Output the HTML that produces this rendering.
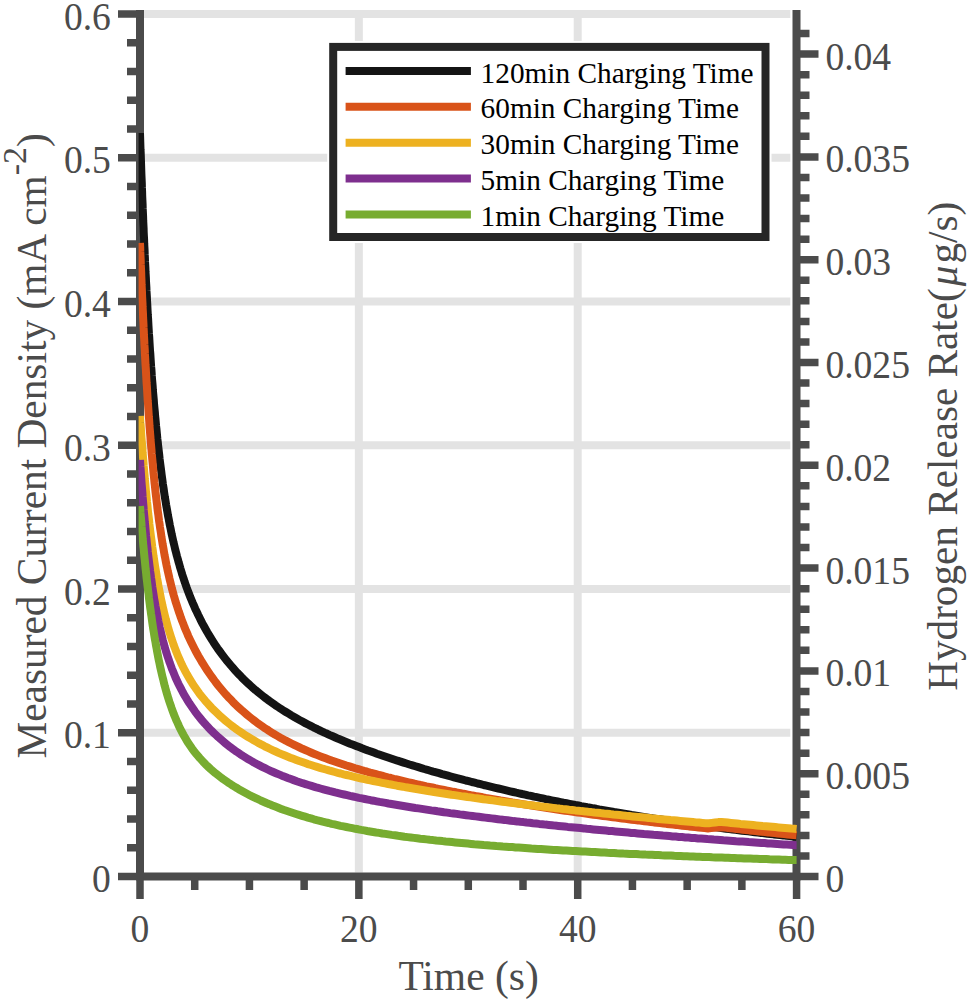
<!DOCTYPE html>
<html><head><meta charset="utf-8"><style>
html,body{margin:0;padding:0;background:#fff;width:967px;height:1002px;overflow:hidden}
svg{display:block}
text{font-family:"Liberation Serif",serif}
</style></head><body>
<svg width="967" height="1002" viewBox="0 0 967 1002">
<rect width="967" height="1002" fill="#fff"/>
<line x1="144" y1="14.00" x2="790.3" y2="14.00" stroke="#e3e3e3" stroke-width="8"/>
<line x1="144" y1="157.75" x2="790.3" y2="157.75" stroke="#e3e3e3" stroke-width="8"/>
<line x1="144" y1="301.50" x2="790.3" y2="301.50" stroke="#e3e3e3" stroke-width="8"/>
<line x1="144" y1="445.25" x2="790.3" y2="445.25" stroke="#e3e3e3" stroke-width="8"/>
<line x1="144" y1="589.00" x2="790.3" y2="589.00" stroke="#e3e3e3" stroke-width="8"/>
<line x1="144" y1="732.75" x2="790.3" y2="732.75" stroke="#e3e3e3" stroke-width="8"/>
<line x1="358.86" y1="10" x2="358.86" y2="872.5" stroke="#e3e3e3" stroke-width="8"/>
<line x1="577.72" y1="10" x2="577.72" y2="872.5" stroke="#e3e3e3" stroke-width="8"/>
<path d="M140 10V880.5M796.5 10V880.5M136 876.5H800.5" stroke="#4b4b4b" stroke-width="8" fill="none"/>
<path d="M118 14.00H139M127 42.75H139M127 71.50H139M127 100.25H139M127 129.00H139M118 157.75H139M127 186.50H139M127 215.25H139M127 244.00H139M127 272.75H139M118 301.50H139M127 330.25H139M127 359.00H139M127 387.75H139M127 416.50H139M118 445.25H139M127 474.00H139M127 502.75H139M127 531.50H139M127 560.25H139M118 589.00H139M127 617.75H139M127 646.50H139M127 675.25H139M127 704.00H139M118 732.75H139M127 761.50H139M127 790.25H139M127 819.00H139M127 847.75H139M118 876.50H139M797 876.50H818.5M797 855.94H809.5M797 835.38H809.5M797 814.82H809.5M797 794.26H809.5M797 773.70H818.5M797 753.14H809.5M797 732.58H809.5M797 712.02H809.5M797 691.46H809.5M797 670.90H818.5M797 650.34H809.5M797 629.78H809.5M797 609.22H809.5M797 588.66H809.5M797 568.10H818.5M797 547.54H809.5M797 526.98H809.5M797 506.42H809.5M797 485.86H809.5M797 465.30H818.5M797 444.74H809.5M797 424.18H809.5M797 403.62H809.5M797 383.06H809.5M797 362.50H818.5M797 341.94H809.5M797 321.38H809.5M797 300.82H809.5M797 280.26H809.5M797 259.70H818.5M797 239.14H809.5M797 218.58H809.5M797 198.02H809.5M797 177.46H809.5M797 156.90H818.5M797 136.34H809.5M797 115.78H809.5M797 95.22H809.5M797 74.66H809.5M797 54.10H818.5M797 33.54H809.5M140.00 877V899M194.72 877V890M249.43 877V890M304.14 877V890M358.86 877V899M413.57 877V890M468.29 877V890M523.00 877V890M577.72 877V899M632.43 877V890M687.15 877V890M741.87 877V890M796.58 877V899" stroke="#4b4b4b" stroke-width="7.5" fill="none"/>
<defs><clipPath id="pc"><rect x="138.6" y="0" width="658.6" height="880"/></clipPath></defs><g clip-path="url(#pc)">
<path d="M140.0 133.0 L140.1 136.3 L140.2 139.6 L140.3 142.9 L140.4 146.1 L140.5 149.3 L140.7 152.5 L140.8 155.7 L140.9 158.8 L141.0 161.9 L141.1 165.0 L141.2 168.0 L141.3 171.1 L141.4 174.1 L141.6 178.6 L141.8 183.0 L141.9 187.4 L142.1 191.7 L142.2 195.9 L142.4 200.1 L142.6 204.3 L142.7 208.4 L142.9 212.5 L143.1 216.5 L143.2 220.5 L143.4 224.4 L143.6 228.3 L143.7 232.1 L143.9 235.9 L144.1 239.6 L144.2 243.3 L144.4 247.0 L144.6 250.6 L144.7 254.2 L144.9 257.7 L145.0 261.2 L145.2 264.7 L145.4 268.1 L145.5 271.5 L145.7 274.8 L145.9 278.1 L146.0 281.3 L146.2 284.6 L146.4 287.8 L146.5 290.9 L146.7 294.0 L146.9 297.1 L147.0 300.1 L147.2 303.2 L147.4 307.1 L147.6 311.0 L147.8 314.9 L148.1 318.7 L148.3 322.4 L148.5 326.1 L148.7 329.7 L148.9 333.3 L149.2 336.8 L149.4 340.3 L149.6 343.7 L149.8 347.0 L150.0 350.4 L150.3 353.6 L150.5 356.9 L150.7 360.0 L150.9 363.2 L151.1 366.3 L151.4 369.3 L151.6 372.3 L151.8 376.0 L152.1 379.7 L152.4 383.2 L152.7 386.7 L152.9 390.2 L153.2 393.6 L153.5 396.9 L153.8 400.2 L154.0 403.4 L154.3 406.6 L154.6 409.7 L154.9 412.7 L155.1 415.7 L155.5 419.3 L155.8 422.8 L156.1 426.2 L156.5 429.5 L156.8 432.8 L157.1 436.0 L157.4 439.2 L157.8 442.3 L158.1 445.3 L158.5 448.8 L158.9 452.2 L159.3 455.5 L159.6 458.7 L160.0 461.9 L160.4 465.0 L160.8 468.1 L161.2 471.1 L161.6 474.4 L162.1 478.0 L162.5 481.1 L162.9 484.1 L163.6 488.5 L164.2 492.7 L164.8 496.8 L165.5 500.8 L166.1 504.7 L166.8 508.4 L167.4 512.0 L168.0 515.6 L168.7 519.0 L169.3 522.3 L169.9 525.5 L170.6 528.7 L171.2 531.7 L171.8 534.7 L172.7 538.6 L173.5 542.3 L174.4 545.9 L175.2 549.4 L176.1 552.7 L176.9 556.0 L177.8 559.1 L178.6 562.2 L179.5 565.2 L180.3 568.1 L181.4 571.6 L182.4 575.0 L183.5 578.2 L184.5 581.4 L185.6 584.5 L186.6 587.4 L187.7 590.3 L189.0 593.7 L190.2 596.9 L191.5 600.0 L192.8 603.1 L194.1 606.0 L195.3 608.9 L196.6 611.6 L198.1 614.8 L199.6 617.8 L201.0 620.7 L202.5 623.6 L204.0 626.3 L205.5 629.0 L207.2 632.0 L208.9 634.8 L210.6 637.6 L212.3 640.3 L213.9 643.0 L215.6 645.5 L217.5 648.3 L219.5 651.0 L221.4 653.6 L223.3 656.1 L225.2 658.6 L227.1 661.0 L229.0 663.3 L231.1 665.8 L233.2 668.2 L235.3 670.6 L237.4 672.9 L239.6 675.1 L241.7 677.3 L244.0 679.6 L246.3 681.8 L248.7 684.0 L251.0 686.1 L253.3 688.2 L255.6 690.2 L258.0 692.1 L260.3 694.0 L262.8 696.0 L265.4 698.0 L267.9 699.9 L270.5 701.7 L273.0 703.5 L275.5 705.3 L278.1 707.0 L280.6 708.7 L283.2 710.3 L285.9 712.0 L288.7 713.7 L291.4 715.4 L294.2 717.0 L296.9 718.5 L299.7 720.1 L302.4 721.6 L305.2 723.1 L307.9 724.5 L310.7 725.9 L313.4 727.3 L316.2 728.6 L318.9 730.0 L321.7 731.3 L324.4 732.6 L327.2 733.8 L329.9 735.1 L332.7 736.3 L335.4 737.5 L338.4 738.8 L341.4 740.0 L344.3 741.2 L347.3 742.5 L350.2 743.7 L353.2 744.8 L356.2 746.0 L359.1 747.1 L362.1 748.3 L365.1 749.4 L368.0 750.5 L371.0 751.5 L373.9 752.6 L376.9 753.7 L379.9 754.7 L382.8 755.7 L385.8 756.7 L388.8 757.7 L391.7 758.7 L394.7 759.7 L397.6 760.7 L400.6 761.6 L403.6 762.6 L406.5 763.5 L409.5 764.5 L412.5 765.4 L415.4 766.3 L418.4 767.2 L421.4 768.1 L424.3 769.0 L427.3 769.8 L430.2 770.7 L433.2 771.6 L436.2 772.4 L439.1 773.2 L442.1 774.1 L445.1 774.9 L448.0 775.7 L451.0 776.5 L453.9 777.3 L456.9 778.1 L459.9 778.9 L462.8 779.7 L465.8 780.5 L468.8 781.2 L471.7 782.0 L474.7 782.7 L477.6 783.5 L480.6 784.2 L483.6 785.0 L486.5 785.7 L489.5 786.4 L492.5 787.1 L495.4 787.8 L498.4 788.5 L501.3 789.2 L504.3 789.9 L507.3 790.6 L510.2 791.3 L513.2 792.0 L516.2 792.7 L519.1 793.3 L522.1 794.0 L525.1 794.6 L528.0 795.3 L531.0 795.9 L533.9 796.6 L536.9 797.2 L539.9 797.8 L542.8 798.4 L545.8 799.1 L548.8 799.7 L551.7 800.3 L554.7 800.9 L557.6 801.5 L560.6 802.1 L563.6 802.7 L566.5 803.2 L569.5 803.8 L572.5 804.4 L575.4 805.0 L578.4 805.5 L581.3 806.1 L584.3 806.6 L587.3 807.2 L590.2 807.7 L593.2 808.3 L596.2 808.8 L599.1 809.4 L602.1 809.9 L605.1 810.4 L608.0 810.9 L611.0 811.4 L613.9 812.0 L616.9 812.5 L619.9 813.0 L622.8 813.5 L625.8 814.0 L628.8 814.5 L631.7 815.0 L634.7 815.4 L637.6 815.9 L640.6 816.4 L643.6 816.9 L646.7 817.4 L649.9 817.9 L653.1 818.4 L656.3 818.9 L659.4 819.3 L662.6 819.8 L665.8 820.3 L669.0 820.8 L672.1 821.3 L675.3 821.7 L678.5 822.2 L681.7 822.6 L684.8 823.1 L688.0 823.5 L691.2 824.0 L694.4 824.4 L697.5 824.9 L700.7 825.3 L703.9 825.7 L707.1 826.2 L710.2 826.6 L713.4 827.0 L716.6 827.4 L719.8 827.9 L722.9 828.3 L726.1 828.7 L729.3 829.1 L732.5 829.5 L735.6 829.9 L738.8 830.3 L742.0 830.7 L745.2 831.0 L748.3 831.4 L751.5 831.8 L754.7 832.2 L757.9 832.6 L761.0 832.9 L764.2 833.3 L767.4 833.7 L770.5 834.0 L773.7 834.4 L776.9 834.7 L780.1 835.1 L783.2 835.4 L786.4 835.8 L789.6 836.1 L792.8 836.5 L795.9 836.8 L796.6 836.9" fill="none" stroke="#141414" stroke-width="8" stroke-linejoin="round"/>
<path d="M140.0 243.0 L140.2 247.4 L140.3 251.7 L140.5 256.0 L140.7 260.2 L140.8 264.4 L141.0 268.5 L141.2 272.6 L141.3 276.6 L141.5 280.6 L141.6 284.5 L141.8 288.4 L142.0 292.2 L142.1 296.0 L142.3 299.7 L142.5 303.4 L142.6 307.0 L142.8 310.6 L143.0 314.1 L143.1 317.6 L143.3 321.1 L143.5 324.5 L143.6 327.9 L143.8 331.2 L143.9 334.5 L144.1 337.8 L144.3 341.0 L144.4 344.2 L144.6 347.3 L144.8 350.4 L144.9 353.5 L145.1 356.5 L145.3 360.5 L145.5 364.4 L145.8 368.3 L146.0 372.1 L146.2 375.8 L146.4 379.5 L146.6 383.1 L146.9 386.7 L147.1 390.2 L147.3 393.6 L147.5 397.0 L147.7 400.4 L148.0 403.7 L148.2 406.9 L148.4 410.1 L148.6 413.3 L148.8 416.4 L149.1 419.4 L149.3 422.4 L149.5 426.1 L149.8 429.7 L150.1 433.3 L150.4 436.8 L150.6 440.2 L150.9 443.6 L151.2 446.9 L151.5 450.1 L151.7 453.3 L152.0 456.4 L152.3 459.5 L152.6 462.5 L152.9 466.0 L153.2 469.5 L153.5 472.9 L153.9 476.2 L154.2 479.5 L154.5 482.7 L154.9 485.8 L155.2 488.9 L155.5 491.8 L155.9 495.3 L156.3 498.6 L156.7 501.9 L157.1 505.0 L157.4 508.1 L157.8 511.2 L158.3 514.6 L158.7 517.9 L159.1 521.1 L159.6 524.2 L160.0 527.3 L160.5 530.3 L161.0 533.5 L161.4 536.7 L162.1 540.8 L162.7 544.6 L163.4 548.3 L164.0 551.9 L164.6 555.4 L165.3 558.7 L165.9 562.0 L166.5 565.1 L167.2 568.2 L167.8 571.2 L168.7 575.0 L169.5 578.7 L170.4 582.2 L171.2 585.6 L172.0 588.9 L172.9 592.1 L173.7 595.1 L174.6 598.1 L175.6 601.7 L176.7 605.1 L177.8 608.4 L178.8 611.6 L179.9 614.7 L180.9 617.7 L182.0 620.6 L183.3 623.9 L184.5 627.1 L185.8 630.2 L187.1 633.2 L188.3 636.1 L189.6 638.9 L191.1 642.0 L192.6 645.0 L194.1 648.0 L195.5 650.8 L197.0 653.5 L198.5 656.2 L200.2 659.1 L201.9 662.0 L203.6 664.7 L205.3 667.4 L207.0 670.0 L208.7 672.5 L210.6 675.2 L212.5 677.9 L214.4 680.5 L216.3 683.0 L218.2 685.4 L220.1 687.7 L222.2 690.2 L224.3 692.7 L226.4 695.1 L228.6 697.4 L230.7 699.6 L232.8 701.8 L235.1 704.1 L237.4 706.3 L239.8 708.5 L242.1 710.6 L244.4 712.6 L246.8 714.6 L249.1 716.5 L251.6 718.5 L254.2 720.5 L256.7 722.4 L259.2 724.2 L261.8 726.0 L264.3 727.8 L266.9 729.4 L269.4 731.1 L272.1 732.8 L274.9 734.5 L277.7 736.1 L280.4 737.7 L283.2 739.2 L285.9 740.7 L288.7 742.1 L291.4 743.5 L294.2 744.9 L296.9 746.2 L299.7 747.5 L302.4 748.8 L305.2 750.0 L307.9 751.2 L310.9 752.5 L313.8 753.7 L316.8 754.9 L319.8 756.1 L322.7 757.2 L325.7 758.3 L328.7 759.4 L331.6 760.5 L334.6 761.5 L337.5 762.5 L340.5 763.5 L343.5 764.5 L346.4 765.5 L349.4 766.4 L352.4 767.4 L355.3 768.3 L358.3 769.1 L361.2 770.0 L364.2 770.9 L367.2 771.7 L370.1 772.6 L373.1 773.4 L376.1 774.2 L379.0 775.0 L382.0 775.7 L384.9 776.5 L387.9 777.3 L390.9 778.0 L393.8 778.8 L396.8 779.5 L399.8 780.2 L402.7 780.9 L405.7 781.6 L408.7 782.3 L411.6 783.0 L414.6 783.7 L417.5 784.3 L420.5 785.0 L423.5 785.6 L426.4 786.3 L429.4 786.9 L432.4 787.5 L435.3 788.2 L438.3 788.8 L441.2 789.4 L444.2 790.0 L447.2 790.6 L450.1 791.2 L453.1 791.8 L456.1 792.3 L459.0 792.9 L462.0 793.5 L464.9 794.0 L467.9 794.6 L470.9 795.2 L473.8 795.7 L476.8 796.3 L479.8 796.8 L482.7 797.3 L485.7 797.9 L488.7 798.4 L491.6 798.9 L494.6 799.4 L497.5 799.9 L500.5 800.5 L503.5 801.0 L506.4 801.5 L509.4 802.0 L512.4 802.5 L515.3 802.9 L518.3 803.4 L521.2 803.9 L524.2 804.4 L527.2 804.9 L530.1 805.3 L533.3 805.8 L536.5 806.3 L539.7 806.8 L542.8 807.3 L546.0 807.8 L549.2 808.3 L552.4 808.8 L555.5 809.2 L558.7 809.7 L561.9 810.2 L565.1 810.7 L568.2 811.1 L571.4 811.6 L574.6 812.0 L577.7 812.5 L580.9 812.9 L584.1 813.4 L587.3 813.8 L590.4 814.2 L593.6 814.7 L596.8 815.1 L600.0 815.5 L603.1 816.0 L606.3 816.4 L609.5 816.8 L612.7 817.2 L615.8 817.6 L619.0 818.0 L622.2 818.5 L625.4 818.9 L628.5 819.3 L631.7 819.7 L634.9 820.1 L638.1 820.4 L641.2 820.8 L644.4 821.2 L647.6 821.6 L650.8 822.0 L653.9 822.4 L657.1 822.7 L660.3 823.1 L663.5 823.5 L666.6 823.9 L669.8 824.2 L673.0 824.6 L676.2 824.9 L679.3 825.3 L682.5 825.7 L685.7 826.0 L688.9 826.4 L692.0 826.7 L695.2 827.1 L698.4 827.4 L701.6 827.7 L704.7 828.1 L707.9 828.4 L711.1 828.1 L714.3 827.7 L717.4 827.4 L720.6 827.2 L723.8 827.5 L727.0 827.9 L730.1 828.2 L733.3 828.6 L736.5 829.0 L739.7 829.3 L742.8 829.7 L746.0 830.0 L749.2 830.4 L752.3 830.7 L755.5 831.1 L758.7 831.4 L761.9 831.7 L765.0 832.1 L768.2 832.4 L771.4 832.8 L774.6 833.1 L777.7 833.4 L780.9 833.7 L784.1 834.1 L787.3 834.4 L790.4 834.7 L793.6 835.0 L796.6 835.3" fill="none" stroke="#D95319" stroke-width="8" stroke-linejoin="round"/>
<path d="M140.0 416.0 L140.2 419.3 L140.4 422.5 L140.7 425.7 L140.9 428.8 L141.1 431.9 L141.3 434.9 L141.5 437.9 L141.8 441.7 L142.1 445.3 L142.4 448.9 L142.6 452.4 L142.9 455.9 L143.2 459.3 L143.5 462.7 L143.7 466.0 L144.0 469.3 L144.3 472.5 L144.6 475.6 L144.8 478.7 L145.1 481.8 L145.4 484.8 L145.7 488.3 L146.0 491.8 L146.4 495.2 L146.7 498.6 L147.0 501.9 L147.4 505.1 L147.7 508.3 L148.0 511.4 L148.3 514.4 L148.7 517.4 L149.1 520.8 L149.4 524.2 L149.8 527.5 L150.2 530.7 L150.6 533.8 L151.0 536.9 L151.4 539.9 L151.8 543.3 L152.2 546.6 L152.7 549.8 L153.1 552.9 L153.5 556.0 L154.0 559.0 L154.5 562.3 L155.0 565.5 L155.5 568.6 L156.0 571.7 L156.5 574.6 L157.0 577.9 L157.6 581.0 L158.1 584.0 L158.6 587.0 L159.3 590.1 L159.9 593.2 L160.5 596.2 L161.1 599.4 L161.8 602.4 L162.5 605.8 L163.4 609.4 L164.2 613.0 L165.1 616.4 L165.9 619.6 L166.8 622.8 L167.6 625.8 L168.4 628.8 L169.5 632.3 L170.6 635.7 L171.6 638.9 L172.7 642.0 L173.7 645.0 L174.8 647.9 L176.1 651.2 L177.3 654.3 L178.6 657.3 L179.9 660.2 L181.1 663.0 L182.6 666.1 L184.1 669.0 L185.6 671.9 L187.1 674.6 L188.8 677.5 L190.5 680.3 L192.1 683.0 L193.8 685.6 L195.5 688.1 L197.4 690.8 L199.3 693.4 L201.3 695.9 L203.2 698.2 L205.3 700.8 L207.4 703.2 L209.5 705.5 L211.6 707.8 L213.7 709.9 L216.1 712.2 L218.4 714.4 L220.7 716.6 L223.0 718.6 L225.4 720.6 L227.7 722.5 L230.2 724.5 L232.8 726.5 L235.3 728.4 L237.9 730.2 L240.4 731.9 L242.9 733.6 L245.5 735.3 L248.2 737.0 L251.0 738.7 L253.7 740.3 L256.5 741.9 L259.2 743.4 L262.0 744.8 L264.7 746.3 L267.5 747.7 L270.2 749.0 L273.0 750.3 L275.7 751.5 L278.5 752.8 L281.5 754.1 L284.4 755.3 L287.4 756.5 L290.3 757.7 L293.3 758.8 L296.3 759.9 L299.2 761.0 L302.2 762.0 L305.2 763.1 L308.1 764.1 L311.1 765.0 L314.1 766.0 L317.0 766.9 L320.0 767.8 L322.9 768.7 L325.9 769.5 L328.9 770.4 L331.8 771.2 L334.8 772.0 L337.8 772.8 L340.7 773.5 L343.7 774.3 L346.6 775.0 L349.6 775.7 L352.6 776.4 L355.5 777.1 L358.5 777.8 L361.5 778.5 L364.4 779.1 L367.4 779.8 L370.3 780.4 L373.3 781.0 L376.3 781.6 L379.2 782.2 L382.2 782.8 L385.2 783.4 L388.1 784.0 L391.1 784.5 L394.0 785.1 L397.0 785.7 L400.0 786.2 L402.9 786.7 L405.9 787.3 L408.9 787.8 L411.8 788.3 L414.8 788.8 L417.8 789.3 L420.7 789.8 L423.7 790.3 L426.6 790.8 L429.6 791.3 L432.6 791.7 L435.7 792.2 L438.9 792.7 L442.1 793.2 L445.3 793.7 L448.4 794.2 L451.6 794.7 L454.8 795.1 L458.0 795.6 L461.1 796.1 L464.3 796.5 L467.5 797.0 L470.7 797.4 L473.8 797.9 L477.0 798.3 L480.2 798.7 L483.4 799.2 L486.5 799.6 L489.7 800.0 L492.9 800.4 L496.1 800.9 L499.2 801.3 L502.4 801.7 L505.6 802.1 L508.8 802.5 L511.9 802.9 L515.1 803.3 L518.3 803.7 L521.5 804.1 L524.6 804.5 L527.8 804.9 L531.0 805.3 L534.2 805.6 L537.3 806.0 L540.5 806.4 L543.7 806.8 L546.9 807.1 L550.0 807.5 L553.2 807.9 L556.4 808.3 L559.5 808.6 L562.7 809.0 L565.9 809.3 L569.1 809.7 L572.2 810.0 L575.4 810.4 L578.6 810.7 L581.8 811.1 L584.9 811.4 L588.1 811.8 L591.3 812.1 L594.5 812.5 L597.6 812.8 L600.8 813.1 L604.0 813.5 L607.2 813.8 L610.3 814.1 L613.5 814.5 L616.7 814.8 L619.9 815.1 L623.0 815.4 L626.2 815.8 L629.4 816.1 L632.6 816.4 L635.7 816.7 L638.9 817.0 L642.1 817.3 L645.3 817.6 L648.4 817.9 L651.6 818.3 L654.8 818.6 L658.0 818.9 L661.1 819.2 L664.3 819.5 L667.5 819.8 L670.7 820.1 L673.8 820.3 L677.0 820.6 L680.2 820.9 L683.4 821.2 L686.5 821.5 L689.7 821.8 L692.9 822.1 L696.1 822.4 L699.2 822.6 L702.4 822.9 L705.6 823.2 L708.8 823.3 L711.9 822.9 L715.1 822.5 L718.3 822.1 L721.4 822.0 L724.6 822.3 L727.8 822.6 L731.0 822.9 L734.1 823.2 L737.3 823.5 L740.5 823.9 L743.7 824.2 L746.8 824.5 L750.0 824.8 L753.2 825.1 L756.4 825.4 L759.5 825.7 L762.7 826.0 L765.9 826.2 L769.1 826.5 L772.2 826.8 L775.4 827.1 L778.6 827.4 L781.8 827.7 L784.9 828.0 L788.1 828.3 L791.3 828.6 L794.5 828.8 L796.6 829.0" fill="none" stroke="#EDB120" stroke-width="8" stroke-linejoin="round"/>
<path d="M140.0 460.0 L140.2 463.3 L140.4 466.6 L140.7 469.8 L140.9 472.9 L141.1 476.0 L141.3 479.1 L141.5 482.1 L141.8 485.8 L142.1 489.4 L142.4 493.0 L142.6 496.5 L142.9 499.9 L143.2 503.3 L143.5 506.6 L143.7 509.8 L144.0 513.0 L144.3 516.1 L144.6 519.2 L144.8 522.2 L145.2 525.7 L145.5 529.2 L145.8 532.6 L146.1 535.9 L146.5 539.1 L146.8 542.3 L147.1 545.4 L147.5 548.4 L147.8 551.9 L148.2 555.3 L148.6 558.6 L149.0 561.8 L149.4 564.9 L149.8 568.0 L150.1 571.0 L150.6 574.3 L151.0 577.5 L151.5 580.7 L151.9 583.8 L152.3 586.8 L152.8 590.0 L153.3 593.2 L153.8 596.3 L154.3 599.3 L154.9 602.5 L155.4 605.7 L156.0 608.7 L156.6 611.9 L157.2 615.1 L157.8 618.1 L158.4 621.3 L159.1 624.4 L159.7 627.4 L160.5 630.5 L161.2 633.5 L162.1 637.2 L162.9 640.5 L163.8 643.7 L164.6 646.7 L165.5 649.6 L166.5 653.1 L167.6 656.4 L168.7 659.6 L169.7 662.7 L170.8 665.6 L171.8 668.4 L173.1 671.6 L174.4 674.7 L175.6 677.7 L176.9 680.5 L178.4 683.7 L179.9 686.7 L181.4 689.5 L182.8 692.3 L184.3 694.9 L186.0 697.8 L187.7 700.6 L189.4 703.3 L191.1 705.8 L193.0 708.6 L194.9 711.3 L196.8 713.8 L198.7 716.3 L200.6 718.6 L202.7 721.2 L204.8 723.6 L207.0 725.9 L209.1 728.2 L211.2 730.4 L213.5 732.7 L215.9 734.9 L218.2 737.1 L220.5 739.1 L222.8 741.1 L225.2 743.1 L227.7 745.1 L230.2 747.1 L232.8 749.0 L235.3 750.8 L237.9 752.5 L240.4 754.3 L242.9 755.9 L245.7 757.6 L248.4 759.3 L251.2 760.9 L253.9 762.5 L256.7 764.0 L259.4 765.4 L262.2 766.8 L265.0 768.2 L267.7 769.5 L270.5 770.8 L273.2 772.0 L276.0 773.2 L278.9 774.4 L281.9 775.7 L284.8 776.8 L287.8 778.0 L290.8 779.1 L293.7 780.1 L296.7 781.2 L299.7 782.2 L302.6 783.2 L305.6 784.1 L308.5 785.0 L311.5 785.9 L314.5 786.8 L317.4 787.7 L320.4 788.5 L323.4 789.3 L326.3 790.1 L329.3 790.9 L332.3 791.6 L335.2 792.4 L338.2 793.1 L341.1 793.8 L344.1 794.5 L347.1 795.2 L350.0 795.9 L353.0 796.5 L356.0 797.1 L358.9 797.8 L361.9 798.4 L364.8 799.0 L367.8 799.6 L370.8 800.2 L373.7 800.7 L376.7 801.3 L379.7 801.9 L382.6 802.4 L385.6 802.9 L388.5 803.5 L391.5 804.0 L394.5 804.5 L397.4 805.0 L400.4 805.5 L403.4 806.0 L406.3 806.5 L409.3 807.0 L412.3 807.5 L415.4 808.0 L418.6 808.4 L421.8 808.9 L424.9 809.4 L428.1 809.9 L431.3 810.4 L434.5 810.8 L437.6 811.3 L440.8 811.7 L444.0 812.2 L447.2 812.6 L450.3 813.1 L453.5 813.5 L456.7 813.9 L459.9 814.4 L463.0 814.8 L466.2 815.2 L469.4 815.6 L472.6 816.0 L475.7 816.4 L478.9 816.8 L482.1 817.2 L485.3 817.6 L488.4 818.0 L491.6 818.4 L494.8 818.8 L498.0 819.2 L501.1 819.6 L504.3 819.9 L507.5 820.3 L510.7 820.7 L513.8 821.1 L517.0 821.4 L520.2 821.8 L523.4 822.1 L526.5 822.5 L529.7 822.8 L532.9 823.2 L536.1 823.5 L539.2 823.9 L542.4 824.2 L545.6 824.6 L548.8 824.9 L551.9 825.2 L555.1 825.6 L558.3 825.9 L561.5 826.2 L564.6 826.5 L567.8 826.9 L571.0 827.2 L574.2 827.5 L577.3 827.8 L580.5 828.1 L583.7 828.4 L586.8 828.8 L590.0 829.1 L593.2 829.4 L596.4 829.7 L599.5 830.0 L602.7 830.3 L605.9 830.6 L609.1 830.9 L612.2 831.1 L615.4 831.4 L618.6 831.7 L621.8 832.0 L624.9 832.3 L628.1 832.6 L631.3 832.9 L634.5 833.1 L637.6 833.4 L640.8 833.7 L644.0 834.0 L647.2 834.2 L650.3 834.5 L653.5 834.8 L656.7 835.0 L659.9 835.3 L663.0 835.6 L666.2 835.8 L669.4 836.1 L672.6 836.4 L675.7 836.6 L678.9 836.9 L682.1 837.1 L685.3 837.4 L688.4 837.6 L691.6 837.9 L694.8 838.1 L698.0 838.4 L701.1 838.6 L704.3 838.8 L707.5 839.1 L710.7 839.3 L713.8 839.6 L717.0 839.8 L720.2 840.0 L723.4 840.3 L726.5 840.5 L729.7 840.7 L732.9 840.9 L736.1 841.2 L739.2 841.4 L742.4 841.6 L745.6 841.8 L748.8 842.1 L751.9 842.3 L755.1 842.5 L758.3 842.7 L761.4 842.9 L764.6 843.1 L767.8 843.4 L771.0 843.6 L774.1 843.8 L777.3 844.0 L780.5 844.2 L783.7 844.4 L786.8 844.6 L790.0 844.8 L793.2 845.0 L796.4 845.2 L796.6 845.2" fill="none" stroke="#7E2F8E" stroke-width="8" stroke-linejoin="round"/>
<path d="M140.0 506.0 L140.3 509.5 L140.5 513.0 L140.8 516.4 L141.1 519.7 L141.4 523.0 L141.6 526.3 L141.9 529.5 L142.2 532.7 L142.5 535.8 L142.7 538.9 L143.0 541.9 L143.3 545.5 L143.7 549.0 L144.0 552.4 L144.3 555.8 L144.7 559.2 L145.0 562.4 L145.3 565.7 L145.6 568.8 L146.0 571.9 L146.3 575.0 L146.6 578.0 L147.0 581.4 L147.4 584.8 L147.8 588.1 L148.2 591.4 L148.6 594.5 L148.9 597.7 L149.3 600.7 L149.7 603.7 L150.1 607.1 L150.6 610.3 L151.0 613.6 L151.5 616.7 L151.9 619.8 L152.3 622.8 L152.8 626.1 L153.3 629.3 L153.8 632.4 L154.3 635.5 L154.8 638.5 L155.4 641.7 L155.9 644.9 L156.5 647.9 L157.0 650.9 L157.6 654.1 L158.2 657.2 L158.8 660.2 L159.5 663.4 L160.1 666.5 L160.8 669.5 L161.5 672.7 L162.3 676.1 L163.2 679.6 L164.0 683.0 L164.8 686.2 L165.7 689.3 L166.5 692.3 L167.4 695.2 L168.4 698.6 L169.5 702.0 L170.6 705.1 L171.6 708.1 L172.7 711.1 L173.9 714.4 L175.2 717.5 L176.5 720.6 L177.8 723.4 L179.0 726.2 L180.5 729.2 L182.0 732.1 L183.5 734.9 L185.0 737.5 L186.6 740.3 L188.3 743.0 L190.0 745.5 L191.9 748.3 L193.8 750.9 L195.7 753.3 L197.7 755.6 L199.8 758.1 L201.9 760.4 L204.0 762.7 L206.1 764.8 L208.4 767.0 L210.8 769.2 L213.1 771.2 L215.4 773.2 L218.0 775.2 L220.5 777.1 L223.0 779.0 L225.6 780.8 L228.1 782.6 L230.7 784.2 L233.2 785.9 L236.0 787.5 L238.7 789.2 L241.5 790.8 L244.2 792.3 L247.0 793.8 L249.7 795.2 L252.5 796.6 L255.2 797.9 L258.0 799.2 L260.7 800.5 L263.5 801.7 L266.4 803.0 L269.4 804.2 L272.4 805.5 L275.3 806.6 L278.3 807.8 L281.2 808.9 L284.2 810.0 L287.2 811.0 L290.1 812.0 L293.1 813.0 L296.1 814.0 L299.0 814.9 L302.0 815.8 L305.0 816.7 L307.9 817.6 L310.9 818.4 L313.8 819.3 L316.8 820.1 L319.8 820.8 L322.7 821.6 L325.7 822.3 L328.7 823.0 L331.6 823.8 L334.6 824.4 L337.5 825.1 L340.5 825.8 L343.5 826.4 L346.4 827.0 L349.4 827.6 L352.4 828.2 L355.3 828.8 L358.3 829.3 L361.2 829.9 L364.2 830.4 L367.2 831.0 L370.1 831.5 L373.1 832.0 L376.1 832.5 L379.0 832.9 L382.2 833.5 L385.4 833.9 L388.5 834.4 L391.7 834.9 L394.9 835.3 L398.1 835.8 L401.2 836.2 L404.4 836.7 L407.6 837.1 L410.8 837.5 L413.9 837.9 L417.1 838.3 L420.3 838.7 L423.5 839.0 L426.6 839.4 L429.8 839.8 L433.0 840.1 L436.2 840.5 L439.3 840.8 L442.5 841.1 L445.7 841.5 L448.9 841.8 L452.0 842.1 L455.2 842.4 L458.4 842.7 L461.6 843.0 L464.7 843.3 L467.9 843.6 L471.1 843.9 L474.3 844.2 L477.4 844.4 L480.6 844.7 L483.8 845.0 L487.0 845.2 L490.1 845.5 L493.3 845.7 L496.5 846.0 L499.7 846.2 L502.8 846.5 L506.0 846.7 L509.2 846.9 L512.4 847.1 L515.5 847.4 L518.7 847.6 L521.9 847.8 L525.1 848.0 L528.2 848.2 L531.4 848.5 L534.6 848.7 L537.8 848.9 L540.9 849.1 L544.1 849.3 L547.3 849.5 L550.4 849.7 L553.6 849.9 L556.8 850.0 L560.0 850.2 L563.1 850.4 L566.3 850.6 L569.5 850.8 L572.7 851.0 L575.8 851.1 L579.0 851.3 L582.2 851.5 L585.4 851.6 L588.5 851.8 L591.7 852.0 L594.9 852.1 L598.1 852.3 L601.2 852.5 L604.4 852.6 L607.6 852.8 L610.8 852.9 L613.9 853.1 L617.1 853.3 L620.3 853.4 L623.5 853.6 L626.6 853.7 L629.8 853.9 L633.0 854.0 L636.2 854.1 L639.3 854.3 L642.5 854.4 L645.7 854.6 L648.9 854.7 L652.0 854.8 L655.2 855.0 L658.4 855.1 L661.6 855.3 L664.7 855.4 L667.9 855.5 L671.1 855.6 L674.3 855.8 L677.4 855.9 L680.6 856.0 L683.8 856.2 L687.0 856.3 L690.1 856.4 L693.3 856.5 L696.5 856.7 L699.7 856.8 L702.8 856.9 L706.0 857.0 L709.2 857.1 L712.3 857.3 L715.5 857.4 L718.7 857.5 L721.9 857.6 L725.0 857.7 L728.2 857.8 L731.4 858.0 L734.6 858.1 L737.7 858.2 L740.9 858.3 L744.1 858.4 L747.3 858.5 L750.4 858.6 L753.6 858.7 L756.8 858.8 L760.0 858.9 L763.1 859.0 L766.3 859.1 L769.5 859.3 L772.7 859.4 L775.8 859.5 L779.0 859.6 L782.2 859.7 L785.4 859.8 L788.5 859.9 L791.7 860.0 L794.9 860.1 L796.6 860.1" fill="none" stroke="#77AC30" stroke-width="8" stroke-linejoin="round"/>
</g>
<text transform="translate(110.90,892.00) scale(0.94,1)" text-anchor="end" font-size="40" style="font-family:&quot;Liberation Serif&quot;,serif;fill:#4b4b4b">0</text>
<text transform="translate(110.90,748.25) scale(0.94,1)" text-anchor="end" font-size="40" style="font-family:&quot;Liberation Serif&quot;,serif;fill:#4b4b4b">0.1</text>
<text transform="translate(110.90,604.50) scale(0.94,1)" text-anchor="end" font-size="40" style="font-family:&quot;Liberation Serif&quot;,serif;fill:#4b4b4b">0.2</text>
<text transform="translate(110.90,460.75) scale(0.94,1)" text-anchor="end" font-size="40" style="font-family:&quot;Liberation Serif&quot;,serif;fill:#4b4b4b">0.3</text>
<text transform="translate(110.90,317.00) scale(0.94,1)" text-anchor="end" font-size="40" style="font-family:&quot;Liberation Serif&quot;,serif;fill:#4b4b4b">0.4</text>
<text transform="translate(110.90,173.25) scale(0.94,1)" text-anchor="end" font-size="40" style="font-family:&quot;Liberation Serif&quot;,serif;fill:#4b4b4b">0.5</text>
<text transform="translate(110.90,29.50) scale(0.94,1)" text-anchor="end" font-size="40" style="font-family:&quot;Liberation Serif&quot;,serif;fill:#4b4b4b">0.6</text>
<text transform="translate(825.40,892.00) scale(0.94,1)" text-anchor="start" font-size="40" style="font-family:&quot;Liberation Serif&quot;,serif;fill:#4b4b4b">0</text>
<text transform="translate(825.40,789.20) scale(0.94,1)" text-anchor="start" font-size="40" style="font-family:&quot;Liberation Serif&quot;,serif;fill:#4b4b4b">0.005</text>
<text transform="translate(825.40,686.40) scale(0.94,1)" text-anchor="start" font-size="40" style="font-family:&quot;Liberation Serif&quot;,serif;fill:#4b4b4b">0.01</text>
<text transform="translate(825.40,583.60) scale(0.94,1)" text-anchor="start" font-size="40" style="font-family:&quot;Liberation Serif&quot;,serif;fill:#4b4b4b">0.015</text>
<text transform="translate(825.40,480.80) scale(0.94,1)" text-anchor="start" font-size="40" style="font-family:&quot;Liberation Serif&quot;,serif;fill:#4b4b4b">0.02</text>
<text transform="translate(825.40,378.00) scale(0.94,1)" text-anchor="start" font-size="40" style="font-family:&quot;Liberation Serif&quot;,serif;fill:#4b4b4b">0.025</text>
<text transform="translate(825.40,275.20) scale(0.94,1)" text-anchor="start" font-size="40" style="font-family:&quot;Liberation Serif&quot;,serif;fill:#4b4b4b">0.03</text>
<text transform="translate(825.40,172.40) scale(0.94,1)" text-anchor="start" font-size="40" style="font-family:&quot;Liberation Serif&quot;,serif;fill:#4b4b4b">0.035</text>
<text transform="translate(825.40,69.60) scale(0.94,1)" text-anchor="start" font-size="40" style="font-family:&quot;Liberation Serif&quot;,serif;fill:#4b4b4b">0.04</text>
<text transform="translate(140.00,942.40) scale(0.94,1)" text-anchor="middle" font-size="40" style="font-family:&quot;Liberation Serif&quot;,serif;fill:#4b4b4b">0</text>
<text transform="translate(358.86,942.40) scale(0.94,1)" text-anchor="middle" font-size="40" style="font-family:&quot;Liberation Serif&quot;,serif;fill:#4b4b4b">20</text>
<text transform="translate(577.72,942.40) scale(0.94,1)" text-anchor="middle" font-size="40" style="font-family:&quot;Liberation Serif&quot;,serif;fill:#4b4b4b">40</text>
<text transform="translate(796.58,942.40) scale(0.94,1)" text-anchor="middle" font-size="40" style="font-family:&quot;Liberation Serif&quot;,serif;fill:#4b4b4b">60</text>
<text x="468.6" y="989.6" text-anchor="middle" font-size="41.5" style="font-family:&quot;Liberation Serif&quot;,serif;fill:#4b4b4b">Time (s)</text>
<text transform="translate(46.2,758.5) rotate(-90)" font-size="41.35" style="font-family:&quot;Liberation Serif&quot;,serif;fill:#4b4b4b">Measured Current Density (mA cm<tspan dy="-20" font-size="34">-2</tspan><tspan dy="20">)</tspan></text>
<text transform="translate(956.5,690.8) rotate(-90)" font-size="41.2" style="font-family:&quot;Liberation Serif&quot;,serif;fill:#4b4b4b">Hydrogen Release Rate(<tspan dx="2" font-style="italic">&#956;</tspan><tspan dx="2">g/s)</tspan></text>
<rect x="327.2" y="40.9" width="444.3" height="202.1" fill="#fff"/>
<rect x="333.2" y="46.9" width="432.3" height="190.1" fill="#fff" stroke="#262626" stroke-width="8"/>
<line x1="345.6" y1="71.00" x2="470.9" y2="71.00" stroke="#141414" stroke-width="8"/>
<text x="480.6" y="82.5" font-size="29.3" style="font-family:&quot;Liberation Serif&quot;,serif;fill:#000">120min Charging Time</text>
<line x1="345.6" y1="106.85" x2="470.9" y2="106.85" stroke="#D95319" stroke-width="8"/>
<text x="480.6" y="118.3" font-size="29.3" style="font-family:&quot;Liberation Serif&quot;,serif;fill:#000">60min Charging Time</text>
<line x1="345.6" y1="142.70" x2="470.9" y2="142.70" stroke="#EDB120" stroke-width="8"/>
<text x="480.6" y="154.2" font-size="29.3" style="font-family:&quot;Liberation Serif&quot;,serif;fill:#000">30min Charging Time</text>
<line x1="345.6" y1="178.55" x2="470.9" y2="178.55" stroke="#7E2F8E" stroke-width="8"/>
<text x="480.6" y="190.1" font-size="29.3" style="font-family:&quot;Liberation Serif&quot;,serif;fill:#000">5min Charging Time</text>
<line x1="345.6" y1="214.40" x2="470.9" y2="214.40" stroke="#77AC30" stroke-width="8"/>
<text x="480.6" y="225.9" font-size="29.3" style="font-family:&quot;Liberation Serif&quot;,serif;fill:#000">1min Charging Time</text>
</svg>
</body></html>
